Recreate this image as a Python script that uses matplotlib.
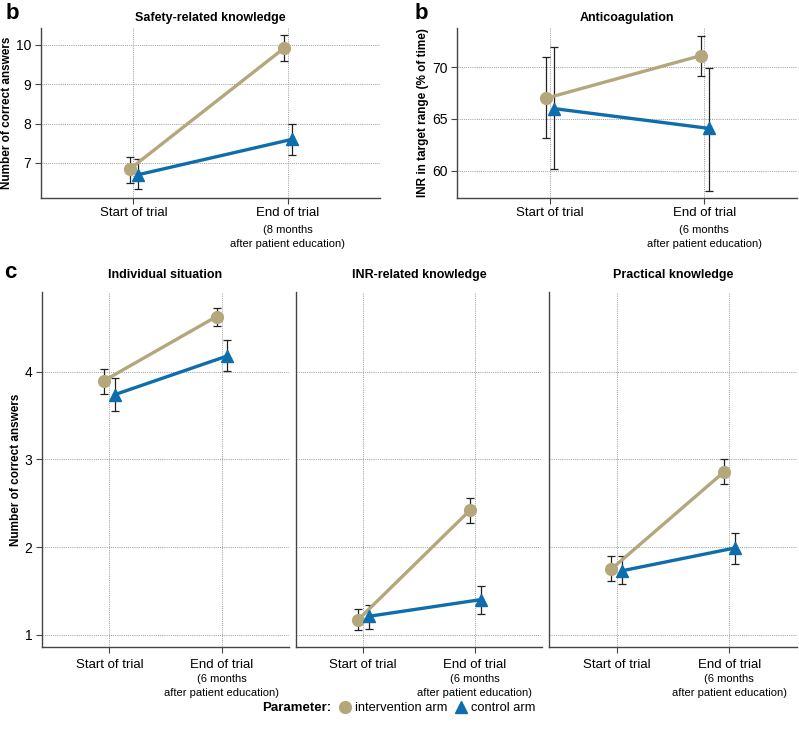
import matplotlib
matplotlib.use("Agg")
import matplotlib.pyplot as plt
from matplotlib import font_manager
from matplotlib.lines import Line2D

# police étroite si dispo, sinon Liberation Sans
noms = {f.name for f in font_manager.fontManager.ttflist}
police = "Liberation Sans Narrow" if "Liberation Sans Narrow" in noms else "Liberation Sans"
plt.rcParams["font.family"] = [police, "DejaVu Sans"]

# time points
timepoints = ["Start of trial", "End of trial"]

# safety-related knowledge (8 months)
safety_int = [6.85, 9.92]
safety_int_lo = [6.50, 9.60]
safety_int_hi = [7.15, 10.25]
safety_ctl = [6.70, 7.60]
safety_ctl_lo = [6.35, 7.20]
safety_ctl_hi = [7.10, 7.98]

# anticoagulation, INR in target range
inr_int = [67.0, 71.1]
inr_int_lo = [63.2, 69.1]
inr_int_hi = [71.0, 73.0]
inr_ctl = [66.0, 64.1]
inr_ctl_lo = [60.2, 58.1]
inr_ctl_hi = [71.9, 69.9]

# individual situation
indiv_int = [3.90, 4.63]
indiv_int_lo = [3.75, 4.52]
indiv_int_hi = [4.03, 4.73]
indiv_ctl = [3.74, 4.18]
indiv_ctl_lo = [3.55, 4.01]
indiv_ctl_hi = [3.93, 4.36]

# INR-related knowledge
inrk_int = [1.17, 2.42]
inrk_int_lo = [1.05, 2.28]
inrk_int_hi = [1.29, 2.56]
inrk_ctl = [1.21, 1.40]
inrk_ctl_lo = [1.07, 1.24]
inrk_ctl_hi = [1.34, 1.56]

# practical knowledge
prac_int = [1.75, 2.86]
prac_int_lo = [1.61, 2.72]
prac_int_hi = [1.90, 3.00]
prac_ctl = [1.73, 1.99]
prac_ctl_lo = [1.58, 1.81]
prac_ctl_hi = [1.90, 2.16]

COL_INT = "#b3a77b"
COL_CTL = "#0d6eab"
SPINE = "#444444"


def tracer_bras(ax, moy, lo, hi, dx, couleur, marqueur, ms):
    x = [i + dx for i in range(len(moy))]
    err = [[m - l for m, l in zip(moy, lo)], [h - m for m, h in zip(moy, hi)]]
    ax.errorbar(x, moy, yerr=err, fmt="none", ecolor="#222222",
                elinewidth=0.9, capsize=3.2, capthick=0.9, zorder=2)
    ax.plot(x, moy, "-", color=couleur, lw=2.4, marker=marqueur, ms=ms,
            mec=couleur, mfc=couleur, zorder=3)


def habiller(ax, titre, mois, ylim, yticks, ylabel=None, gauche=True, pad=5, xpad=2.5):
    ax.set_xlim(-0.6, 1.6)
    ax.set_ylim(*ylim)
    ax.set_xticks([0, 1])
    ax.set_xticklabels(timepoints, fontsize=9.5)
    ax.set_yticks(yticks)
    ax.tick_params(axis="y", labelsize=10, length=4, color=SPINE, pad=3)
    ax.tick_params(axis="x", length=4, color=SPINE, pad=xpad)
    if not gauche:
        ax.tick_params(axis="y", left=False, labelleft=False)
    ax.grid(True, color="#9a9a9a", linestyle=(0, (1, 1.2)), linewidth=0.7)
    ax.set_axisbelow(True)
    for s in ("top", "right"):
        ax.spines[s].set_visible(False)
    for s in ("left", "bottom"):
        ax.spines[s].set_color(SPINE)
        ax.spines[s].set_linewidth(1.0)
    ax.set_title(titre, fontsize=9, fontweight="bold", pad=pad)
    if ylabel:
        ax.set_ylabel(ylabel, fontsize=8.5, fontweight="bold", labelpad=2)
    ax.annotate(f"({mois} months\nafter patient education)", xy=(1, 0),
                xycoords=("data", "axes fraction"), xytext=(0, -19.5),
                textcoords="offset points", ha="center", va="top",
                fontsize=8, linespacing=1.5)


fig = plt.figure(figsize=(7.99, 7.43), dpi=100)

ax1 = fig.add_axes([0.0513, 0.7335, 0.4243, 0.2288])
tracer_bras(ax1, safety_int, safety_int_lo, safety_int_hi, -0.022, COL_INT, "o", 8.5)
tracer_bras(ax1, safety_ctl, safety_ctl_lo, safety_ctl_hi, 0.028, COL_CTL, "^", 8)
habiller(ax1, "Safety-related knowledge", 8, (6.11, 10.43), [7, 8, 9, 10],
         ylabel="Number of correct answers")

ax2 = fig.add_axes([0.572, 0.7335, 0.4255, 0.2288])
tracer_bras(ax2, inr_int, inr_int_lo, inr_int_hi, -0.022, COL_INT, "o", 8.5)
tracer_bras(ax2, inr_ctl, inr_ctl_lo, inr_ctl_hi, 0.028, COL_CTL, "^", 8)
habiller(ax2, "Anticoagulation", 6, (57.4, 73.75), [60, 65, 70],
         ylabel="INR in target range (% of time)")

bas = [
    ([0.0526, 0.1292, 0.309, 0.4778], "Individual situation",
     indiv_int, indiv_int_lo, indiv_int_hi, indiv_ctl, indiv_ctl_lo, indiv_ctl_hi),
    ([0.3705, 0.1292, 0.3079, 0.4778], "INR-related knowledge",
     inrk_int, inrk_int_lo, inrk_int_hi, inrk_ctl, inrk_ctl_lo, inrk_ctl_hi),
    ([0.687, 0.1292, 0.3105, 0.4778], "Practical knowledge",
     prac_int, prac_int_lo, prac_int_hi, prac_ctl, prac_ctl_lo, prac_ctl_hi),
]
for k, (pos, titre, mi, li, hi_, mc, lc, hc) in enumerate(bas):
    ax = fig.add_axes(pos)
    tracer_bras(ax, mi, li, hi_, -0.045, COL_INT, "o", 8.5)
    tracer_bras(ax, mc, lc, hc, 0.05, COL_CTL, "^", 8)
    habiller(ax, titre, 6, (0.86, 4.91), [1, 2, 3, 4],
             ylabel="Number of correct answers" if k == 0 else None,
             gauche=(k == 0), pad=10, xpad=4.5)

# panel letters
fig.text(0.007, 0.996, "b", fontsize=16, fontweight="bold", va="top", ha="left")
fig.text(0.519, 0.996, "b", fontsize=16, fontweight="bold", va="top", ha="left")
fig.text(0.005, 0.647, "c", fontsize=16, fontweight="bold", va="top", ha="left")

# legend
fig.text(0.414, 0.047, "Parameter:", fontsize=9.5, fontweight="bold",
         ha="right", va="center")
poignees = [
    Line2D([], [], ls="none", marker="o", ms=8.5, color=COL_INT),
    Line2D([], [], ls="none", marker="^", ms=8, color=COL_CTL),
]
fig.legend(poignees, ["intervention arm", "control arm"], loc="center left",
           bbox_to_anchor=(0.413, 0.047), ncol=2, frameon=False, fontsize=9.3,
           handletextpad=0.15, columnspacing=0.4, handlelength=1.3, borderpad=0)

fig.savefig("out.png", dpi=100)
